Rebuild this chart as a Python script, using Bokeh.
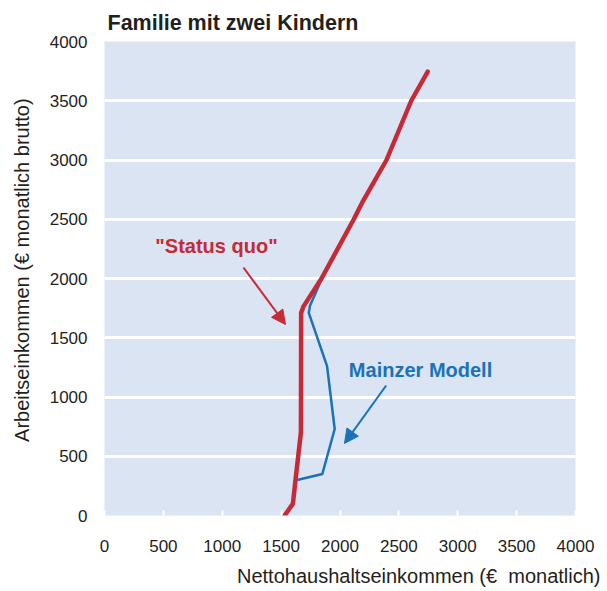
import math
from bokeh.plotting import figure
from bokeh.models import Label, Arrow, NormalHead, FixedTicker, Range1d, Title
from bokeh.embed import file_html
from bokeh.resources import INLINE

# ---- data ----
x_ticks = [0, 500, 1000, 1500, 2000, 2500, 3000, 3500, 4000]
y_ticks = [0, 500, 1000, 1500, 2000, 2500, 3000, 3500, 4000]

status_quo_net = [1530, 1600, 1622, 1668, 1670, 1690, 1843, 2117, 2188, 2395, 2605, 2745]
status_quo_gross = [0, 100, 300, 700, 1710, 1765, 2000, 2500, 2640, 3000, 3500, 3745]

mainzer_net = [1636, 1850, 1955, 1890, 1735, 1745, 1845, 2117, 2188, 2395, 2605, 2745]
mainzer_gross = [300, 350, 730, 1260, 1710, 1770, 1995, 2500, 2640, 3000, 3500, 3745]

title_text = "Familie mit zwei Kindern"
x_label_text = "Nettohaushaltseinkommen (€\u00a0 monatlich)"
y_label_text = "\u00a0\u00a0\u00a0Arbeitseinkommen (€ monatlich brutto)"
status_label_text = "\"Status quo\""
mainzer_label_text = "Mainzer Modell"

# ---- styles ----
RED = "#C52A36"
BLUE = "#1B72B8"
BG = "#DAE4F3"
FONT = "Liberation Sans"
TXT = "#231F20"

p = figure(frame_width=471, frame_height=474, output_backend="svg", toolbar_location=None,
           x_range=Range1d(0, 4000), y_range=Range1d(0, 4000))
p.min_border_left = 104
p.min_border_right = 32
p.min_border_top = 41
p.min_border_bottom = 70
p.outline_line_color = None
p.background_fill_color = BG
p.border_fill_color = "white"

p.title.text = title_text
p.title.align = "left"
p.title.offset = 3
p.title.standoff = 13
p.title.text_font = FONT
p.title.text_font_style = "bold"
p.title.text_font_size = "21.5px"
p.title.text_color = TXT

p.xgrid.grid_line_color = None
p.ygrid.grid_line_color = "white"
p.ygrid.grid_line_width = 3
p.ygrid.ticker = FixedTicker(ticks=y_ticks)

for ax in (p.xaxis[0], p.yaxis[0]):
    ax.axis_line_color = None
    ax.minor_tick_line_color = None
    ax.major_label_text_font = FONT
    ax.major_label_text_font_size = "17px"
    ax.major_label_text_color = TXT

p.xaxis.ticker = FixedTicker(ticks=x_ticks)
p.yaxis.ticker = FixedTicker(ticks=y_ticks)
p.xaxis.major_tick_in = 5
p.xaxis.major_tick_out = 0
p.xaxis.major_tick_line_color = "white"
p.xaxis.major_tick_line_width = 2
p.xaxis.major_label_standoff = 24
p.yaxis.major_tick_line_color = None
p.yaxis.major_label_standoff = 11

p.yaxis.axis_label = y_label_text
p.yaxis.axis_label_text_font = FONT
p.yaxis.axis_label_text_font_size = "20px"
p.yaxis.axis_label_text_font_style = "normal"
p.yaxis.axis_label_text_color = TXT
p.yaxis.axis_label_standoff = 14

p.add_layout(Title(text=x_label_text, align="right", offset=-25, standoff=17,
                   text_font=FONT, text_font_size="20px", text_font_style="normal",
                   text_color=TXT), "below")

# lines
p.line(mainzer_net, mainzer_gross, line_color=BLUE, line_width=2.5, line_join="round")
p.line(status_quo_net, status_quo_gross, line_color=RED, line_width=4.5, line_join="round",
       line_cap="round")

# annotation arrows
p.add_layout(Arrow(end=NormalHead(size=14, fill_color=RED, line_color=RED),
                   x_start=1180, y_start=2093, x_end=1537, y_end=1612,
                   line_color=RED, line_width=2))
p.add_layout(Arrow(end=NormalHead(size=14, fill_color=BLUE, line_color=BLUE),
                   x_start=2392, y_start=1097, x_end=2038, y_end=608,
                   line_color=BLUE, line_width=2))

p.add_layout(Label(x=951, y=2278, text=status_label_text, text_color=RED,
                   text_font=FONT, text_font_style="bold", text_font_size="20px",
                   text_align="center", text_baseline="middle"))
p.add_layout(Label(x=2684, y=1232, text=mainzer_label_text, text_color=BLUE,
                   text_font=FONT, text_font_style="bold", text_font_size="20px",
                   text_align="center", text_baseline="middle"))

open("out.html", "w").write(file_html(p, INLINE))
